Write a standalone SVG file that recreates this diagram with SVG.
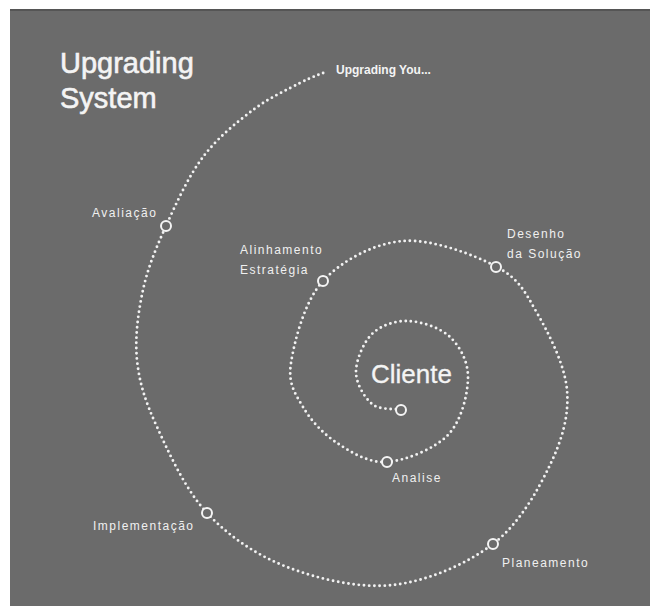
<svg xmlns="http://www.w3.org/2000/svg" width="650" height="610" viewBox="0 0 650 610">
  <style>
    .title { font-family: "Liberation Sans", Arial, sans-serif; font-size: 29px; fill: #f4f4f4; stroke: #f4f4f4; stroke-width: 0.6px; }
    .lbl { font-family: "Liberation Sans", Arial, sans-serif; font-size: 12px; fill: #f0f0f0; letter-spacing: 1.5px; }
    .lblb { font-family: "Liberation Sans", Arial, sans-serif; font-size: 12px; font-weight: bold; fill: #f4f4f4; }
    .center { font-family: "Liberation Sans", Arial, sans-serif; font-size: 26px; fill: #f4f4f4; stroke: #f4f4f4; stroke-width: 0.3px; }
    .spiral { fill: none; stroke: #f2f2f2; stroke-width: 2.9; stroke-linecap: round; stroke-dasharray: 0 5.2; }
    .node { fill: #6b6b6b; stroke: #f4f4f4; stroke-width: 2; }
  </style>
  <rect x="0" y="0" width="650" height="610" fill="#ffffff"/>
  <rect x="10" y="9" width="640" height="597" fill="#6b6b6b"/>
  <line x1="10" y1="10" x2="650" y2="10" stroke="#555555" stroke-width="2"/>

  <g id="title">
    <text class="title" x="60" y="73">Upgrading</text>
    <text class="title" x="60" y="108">System</text>
  </g>

  <g id="connectors">
    <path class="spiral" d="M401,410 C391.3,408 379.5,410.3 372,404 C364.5,397.7 356,383.7 356,372 C356,360.3 363.3,342.5 372,334 C380.7,325.5 395,320.5 408,321 C421,321.5 440,327.5 450,337 C460,346.5 468.3,361.7 468,378 C467.7,394.3 461.5,421 448,435 C434.5,449 405.5,460.7 387,462 C368.5,463.3 351,452.2 337,443 C323,433.8 310.7,420.3 303,407 C295.3,393.7 287.7,384 291,363 C294.3,342 304.3,301.3 323,281 C341.7,260.7 374,243.3 403,241 C432,238.7 474.7,255 497,267 C519.3,279 525.3,292.5 537,313 C548.7,333.5 564.8,364.7 567,390 C569.2,415.3 562.3,439.3 550,465 C537.7,490.7 519.2,524 493,544 C466.8,564 427.3,581.2 393,585 C358.7,588.8 318,579 287,567 C256,555 228.7,536.3 207,513 C185.3,489.7 168.7,452.5 157,427 C145.3,401.5 139.3,382.8 137,360 C134.7,337.2 138.2,312.3 143,290 C147.8,267.7 156,248.2 166,226 C176,203.8 188.5,176.3 203,157 C217.5,137.7 236.8,122.3 253,110 C269.2,97.7 287.5,89.5 300,83 C312.5,76.5 318.7,75 328,71"/>
  </g>

  <g id="cliente">
    <text class="center" x="371" y="383">Cliente</text>
    <circle class="node" cx="401" cy="410" r="5"/>
  </g>
  <g id="analise">
    <circle class="node" cx="387" cy="462" r="5"/>
    <text class="lbl" x="392" y="482">Analise</text>
  </g>
  <g id="alinhamento">
    <circle class="node" cx="323" cy="281" r="5"/>
    <text class="lbl" x="240" y="254">Alinhamento</text>
    <text class="lbl" x="240" y="274">Estratégia</text>
  </g>
  <g id="desenho">
    <circle class="node" cx="496" cy="267" r="5"/>
    <text class="lbl" x="507" y="238">Desenho</text>
    <text class="lbl" x="507" y="258">da Solução</text>
  </g>
  <g id="planeamento">
    <circle class="node" cx="493" cy="544" r="5"/>
    <text class="lbl" x="502" y="567">Planeamento</text>
  </g>
  <g id="implementacao">
    <circle class="node" cx="207" cy="513" r="5"/>
    <text class="lbl" x="93" y="530">Implementação</text>
  </g>
  <g id="avaliacao">
    <circle class="node" cx="166" cy="226" r="5"/>
    <text class="lbl" x="92" y="217">Avaliação</text>
  </g>
  <g id="upgrading-you">
    <text class="lblb" x="336" y="74">Upgrading You...</text>
  </g>
</svg>
